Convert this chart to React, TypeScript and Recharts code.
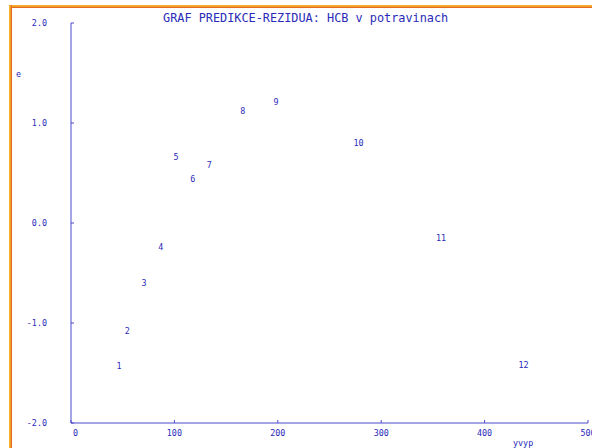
import React from 'react';
import { ScatterChart, Scatter, XAxis, YAxis } from 'recharts';

const pointLabels = ['1', '2', '3', '4', '5', '6', '7', '8', '9', '10', '11', '12'];
const predicted = [46.4, 54.5, 70.6, 86.8, 101.6, 117.8, 133.8, 166.1, 198.4, 278, 357.8, 437.7];
const residuals = [-1.43, -1.08, -0.6, -0.24, 0.66, 0.44, 0.58, 1.12, 1.21, 0.8, -0.15, -1.42];
const xTicks = [0, 100, 200, 300, 400, 500];
const yTicks = [-2, -1, 0, 1, 2];
const title = 'GRAF PREDIKCE-REZIDUA: HCB v potravinach';
const xLabel = 'yvyp';
const yLabel = 'e';

const data = predicted.map((x, i) => ({ x, y: residuals[i], label: pointLabels[i] }));

const TEXT = '#2a2ab8';
const AXIS = '#4a4acc';
const FONT = '"DejaVu Sans Mono", monospace';

const XTick = (props: any) => {
  const { x, y, payload, index } = props;
  return (
    <g>
      <line x1={x} x2={x} y1={y} y2={y - 3} stroke={AXIS} strokeWidth={1} />
      <text
        x={index === 0 ? x + 2 : x}
        y={y + 13}
        textAnchor={index === 0 ? 'start' : 'middle'}
        fontFamily={FONT}
        fontSize={8.4}
        fill={TEXT}
      >
        {payload.value}
      </text>
    </g>
  );
};

const YTick = (props: any) => {
  const { x, y, payload } = props;
  return (
    <g>
      <line x1={x} x2={x + 3} y1={y} y2={y} stroke={AXIS} strokeWidth={1} />
      <text x={x - 24} y={y + 3} textAnchor="end" fontFamily={FONT} fontSize={8.4} fill={TEXT}>
        {Number(payload.value).toFixed(1)}
      </text>
    </g>
  );
};

const PointLabel = (props: any) => {
  const { cx, cy, payload } = props;
  return (
    <text x={cx} y={cy + 3} textAnchor="middle" fontFamily={FONT} fontSize={8.4} fill={TEXT}>
      {payload.label}
    </text>
  );
};

export default function App() {
  return (
    <div style={{ position: 'absolute', left: 0, top: 0, width: 592, height: 448, background: '#fff' }}>
      <ScatterChart width={592} height={448} margin={{ top: 23, right: 4, bottom: 5, left: 0 }}>
        <XAxis
          type="number"
          dataKey="x"
          domain={[0, 500]}
          ticks={xTicks}
          interval={0}
          height={20}
          tickSize={0}
          tickMargin={0}
          tickLine={false}
          axisLine={{ stroke: AXIS, strokeWidth: 1 }}
          tick={<XTick />}
        />
        <YAxis
          type="number"
          dataKey="y"
          domain={[-2, 2]}
          ticks={yTicks}
          interval={0}
          width={71}
          tickSize={0}
          tickMargin={0}
          tickLine={false}
          axisLine={{ stroke: AXIS, strokeWidth: 1 }}
          tick={<YTick />}
        />
        <Scatter data={data} isAnimationActive={false} shape={<PointLabel />} />
        <text x={163} y={22} fontFamily={FONT} fontSize={11.85} fill={TEXT}>
          {title}
        </text>
        <text x={16} y={77} fontFamily={FONT} fontSize={8.4} fill={TEXT}>
          {yLabel}
        </text>
        <text x={513} y={446} fontFamily={FONT} fontSize={8.4} fill={TEXT}>
          {xLabel}
        </text>
      </ScatterChart>
      <div
        style={{
          position: 'absolute',
          left: 9,
          top: 5,
          width: 583,
          height: 3,
          background: 'linear-gradient(to bottom, #f5b830, #f09a20 60%, #d84a28)',
        }}
      />
      <div
        style={{
          position: 'absolute',
          left: 9,
          top: 5,
          width: 3,
          height: 443,
          background: 'linear-gradient(to right, #f5b830, #f09a20 60%, #d84a28)',
        }}
      />
    </div>
  );
}
